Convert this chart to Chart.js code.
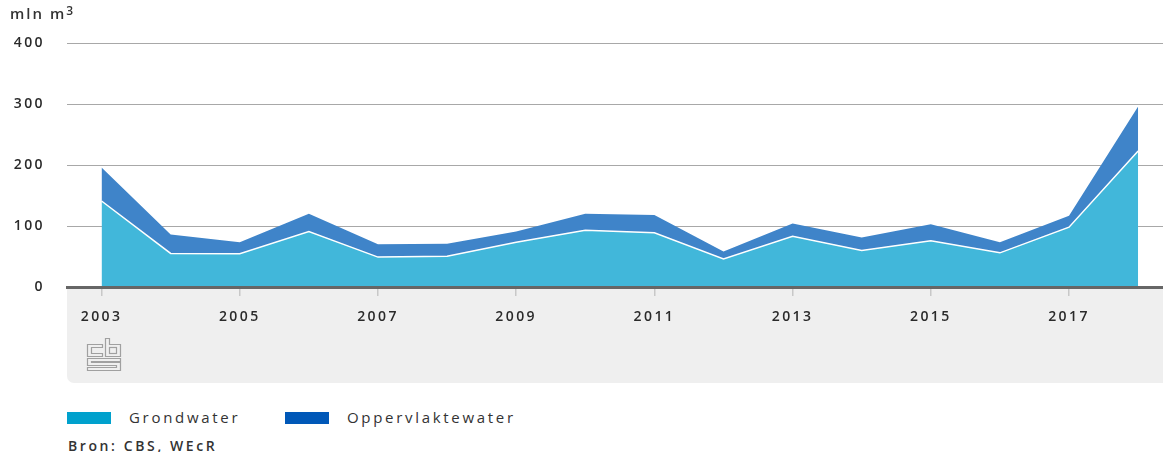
<!DOCTYPE html>
<html>
<head>
<meta charset="utf-8">
<script src="https://cdn.jsdelivr.net/npm/chart.js@4/dist/chart.umd.min.js"></script>
<style>
  body { margin: 0; background: #fff; font-family: "Open Sans", sans-serif; color: #333; }
  #wrap { position: relative; width: 1163px; height: 452px; }
  #chart-box { position: absolute; left: 0; top: 0; width: 1163px; height: 384px; }
  .unit { position: absolute; left: 10px; top: 3px; font-size: 15px; font-weight: 600; letter-spacing: 2px; }
  .unit sup { font-size: 12px; vertical-align: 4px; line-height: 0; }
  .legend { position: absolute; left: 67px; top: 407px; font-size: 15px; letter-spacing: 2.7px; line-height: 20px; }
  .legend span.sw { display: inline-block; width: 44px; height: 12px; vertical-align: -1px; margin-right: 18px; letter-spacing: 0; }
  .legend span.item { margin-right: 38px; }
  .source { position: absolute; left: 68px; top: 436px; font-size: 14px; font-weight: 600; letter-spacing: 2.6px; }
</style>
</head>
<body>
<div id="wrap">
  <div id="chart-box"><canvas id="myChart"></canvas></div>
  <div class="unit">mln m<sup>3</sup></div>
  <div class="legend">
    <span class="item"><span class="sw" style="background:#00a1cd"></span>Grondwater</span>
    <span class="item"><span class="sw" style="background:#0058b8"></span>Oppervlaktewater</span>
  </div>
  <div class="source">Bron: CBS, WEcR</div>
</div>
<script>
// data (mln m3)
const years = [2003, 2004, 2005, 2006, 2007, 2008, 2009, 2010, 2011, 2012, 2013, 2014, 2015, 2016, 2017, 2018];
const grondwater = [141, 55, 54.5, 91, 49, 50.5, 73.5, 93, 89, 46, 83, 60, 76, 56, 98, 223];
const oppervlaktewater = [55, 31, 19, 29, 21, 20.5, 17.5, 27, 29, 12, 21, 21, 27, 17.5, 19, 73];
const xTicks = [2003, 2005, 2007, 2009, 2011, 2013, 2015, 2017];
const yTicks = [0, 100, 200, 300, 400];

// grey band under the axis + cbs logo
const background = {
  id: 'background',
  beforeDraw(chart) {
    const ctx = chart.ctx;
    const a = chart.chartArea;
    ctx.save();
    ctx.fillStyle = '#efefef';
    ctx.beginPath();
    ctx.roundRect(a.left, a.bottom, a.right - a.left + 10, chart.height - a.bottom - 1, [0, 0, 0, 7]);
    ctx.fill();
    // logo, drawn as outlines
    ctx.strokeStyle = '#a0a0a0';
    ctx.lineWidth = 1.2;
    const poly = pts => {
      ctx.beginPath();
      ctx.moveTo(pts[0][0], pts[0][1]);
      pts.slice(1).forEach(p => ctx.lineTo(p[0], p[1]));
      ctx.closePath();
      ctx.stroke();
    };
    // c
    poly([[102.5, 344.5], [87.5, 344.5], [87.5, 356.5], [102.5, 356.5], [102.5, 353.5], [91.5, 353.5], [91.5, 347.5], [102.5, 347.5]]);
    // b
    poly([[105.5, 338.5], [109.5, 338.5], [109.5, 344.5], [120.5, 344.5], [120.5, 356.5], [105.5, 356.5]]);
    ctx.strokeRect(109.5, 347.5, 7, 6);
    // s
    poly([[87.5, 358.5], [120.5, 358.5], [120.5, 361.5], [91.5, 361.5], [91.5, 362.5], [120.5, 362.5], [120.5, 370.5], [87.5, 370.5],
          [87.5, 367.5], [116.5, 367.5], [116.5, 365.5], [87.5, 365.5]]);
    ctx.restore();
    chart.ctx.letterSpacing = '2.4px';
  }
};

const ctx = document.getElementById('myChart').getContext('2d');
const myChart = new Chart(ctx, {
  type: 'line',
  data: {
    labels: years,
    datasets: [{
      label: 'Grondwater',
      data: grondwater,
      backgroundColor: '#41b7da',
      borderColor: '#ffffff',
      borderWidth: 1.5,
      pointRadius: 0,
      fill: 'origin',
      tension: 0
    }, {
      label: 'Oppervlaktewater',
      data: oppervlaktewater,
      backgroundColor: '#3f84c9',
      borderColor: '#3f84c9',
      borderWidth: 0,
      pointRadius: 0,
      fill: '-1',
      tension: 0
    }]
  },
  options: {
    responsive: true,
    maintainAspectRatio: false,
    animation: false,
    layout: { padding: { top: 43, left: 0, right: 0, bottom: 0 } },
    plugins: {
      legend: { display: false },
      tooltip: { enabled: false }
    },
    scales: {
      x: {
        type: 'linear',
        min: 2002.5,
        max: 2018.36,
        afterBuildTicks: scale => { scale.ticks = xTicks.map(v => ({ value: v })); },
        afterFit: scale => { scale.height = 97; },
        grid: { drawOnChartArea: false, drawTicks: true, tickLength: 9, color: '#c8c8c8', lineWidth: 1.5 },
        border: { display: true, color: '#666666', width: 3, z: 1 },
        ticks: {
          padding: 13,
          color: '#2a2a2a',
          maxRotation: 0,
          font: { family: 'Open Sans', size: 14, weight: '600' },
          callback: v => String(v)
        }
      },
      y: {
        stacked: true,
        min: 0,
        max: 400,
        afterBuildTicks: scale => { scale.ticks = yTicks.map(v => ({ value: v })); },
        afterFit: scale => { scale.width = 67; },
        grid: { drawTicks: false, color: '#a8a8a8', lineWidth: 1 },
        border: { display: false },
        ticks: {
          padding: 22,
          color: '#2a2a2a',
          font: { family: 'Open Sans', size: 14, weight: '600' }
        }
      }
    }
  },
  plugins: [background]
});
</script>
</body>
</html>
